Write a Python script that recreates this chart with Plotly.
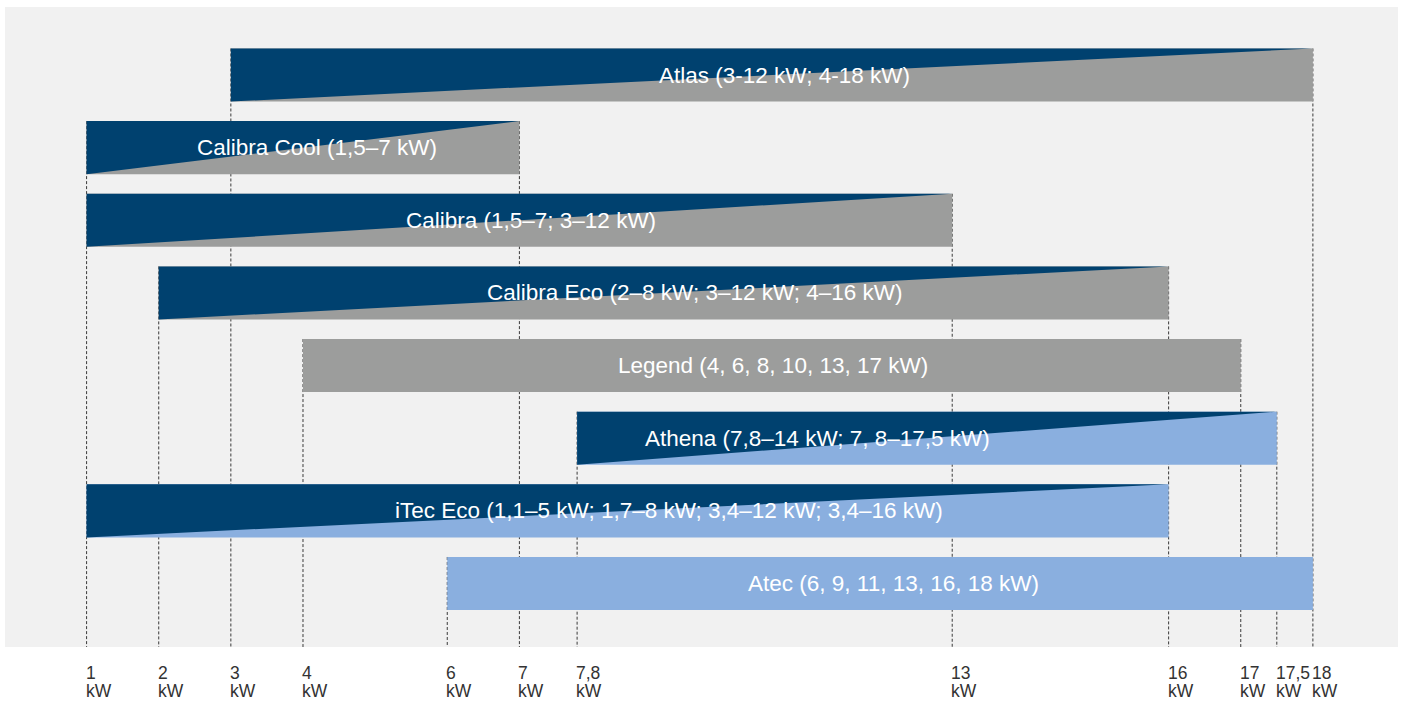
import plotly.graph_objects as go

# ---- data ----
products = ["Atlas (3-12 kW; 4-18 kW)", "Calibra Cool (1,5–7 kW)", "Calibra (1,5–7; 3–12 kW)",
            "Calibra Eco (2–8 kW; 3–12 kW; 4–16 kW)", "Legend (4, 6, 8, 10, 13, 17 kW)",
            "Athena (7,8–14 kW; 7, 8–17,5 kW)", "iTec Eco (1,1–5 kW; 1,7–8 kW; 3,4–12 kW; 3,4–16 kW)",
            "Atec (6, 9, 11, 13, 16, 18 kW)"]
range_start = [3, 1, 1, 2, 4, 7.8, 1, 6]
range_end = [18, 7, 13, 16, 17, 17.5, 16, 18]
base_kind = ["gray", "gray", "gray", "gray", "gray", "light", "light", "light"]
has_wedge = [True, True, True, True, False, True, True, False]
label_x = [10.68, 4.20, 7.16, 9.43, 10.52, 11.13, 9.07, 12.18]

tick_values = [1, 2, 3, 4, 6, 7, 7.8, 13, 16, 17, 17.5, 18]
tick_labels = ["1", "2", "3", "4", "6", "7", "7,8", "13", "16", "17", "17,5", "18"]
tick_unit = "kW"

# ---- style ----
DARK = "#00416f"
GRAY = "#9c9d9c"
LIGHT = "#8aafdf"
BG = "#f1f1f1"
HALF = 0.365
FONT = "Liberation Sans"
Y_RANGE = [7.874, -0.936]

fig = go.Figure()

# dashed guide lines (below bars)
for tv in tick_values:
    rows = [i for i in range(len(products)) if range_start[i] == tv or range_end[i] == tv]
    top = min(rows) - HALF
    fig.add_trace(go.Scatter(x=[tv, tv], y=[top, Y_RANGE[0]], mode="lines",
                             line=dict(color="#3a3a3a", width=1, dash="3px,2px"),
                             hoverinfo="skip", showlegend=False))

for i, name in enumerate(products):
    x0, x1 = range_start[i], range_end[i]
    y_top, y_bot = i - HALF, i + HALF
    col = GRAY if base_kind[i] == "gray" else LIGHT
    fig.add_trace(go.Scatter(x=[x0, x1, x1, x0, x0], y=[y_top, y_top, y_bot, y_bot, y_top],
                             mode="lines", fill="toself", fillcolor=col,
                             line=dict(width=0, color=col), hoverinfo="skip", showlegend=False))
    if has_wedge[i]:
        fig.add_trace(go.Scatter(x=[x0, x0, x1, x0], y=[y_bot, y_top, y_top, y_bot],
                                 mode="lines", fill="toself", fillcolor=DARK,
                                 line=dict(width=0, color=DARK), hoverinfo="skip", showlegend=False))
    fig.add_annotation(x=label_x[i], y=i, xref="x", yref="y", text=name, showarrow=False,
                       font=dict(family=FONT, size=22.5, color="white"),
                       xanchor="center", yanchor="middle")

for tv, tl in zip(tick_values, tick_labels):
    fig.add_annotation(x=tv, y=0, xref="x", yref="paper", text=tl, showarrow=False,
                       font=dict(family=FONT, size=17.5, color="#333333"), borderpad=0,
                       xanchor="left", yanchor="middle", xshift=-2, yshift=-26)
    fig.add_annotation(x=tv, y=0, xref="x", yref="paper", text=tick_unit, showarrow=False,
                       font=dict(family=FONT, size=17.5, color="#333333"), borderpad=0,
                       xanchor="left", yanchor="middle", xshift=-2, yshift=-44)

fig.update_layout(
    width=1405, height=702,
    margin=dict(l=5, r=7, t=7, b=55),
    paper_bgcolor="white", plot_bgcolor=BG,
    xaxis=dict(range=[-0.131, 19.18], showgrid=False, zeroline=False, showticklabels=False,
               showline=False, ticks="", fixedrange=True),
    yaxis=dict(range=Y_RANGE, showgrid=False, zeroline=False, showticklabels=False,
               showline=False, ticks="", fixedrange=True),
    showlegend=False,
)

fig.write_html("out.html")
